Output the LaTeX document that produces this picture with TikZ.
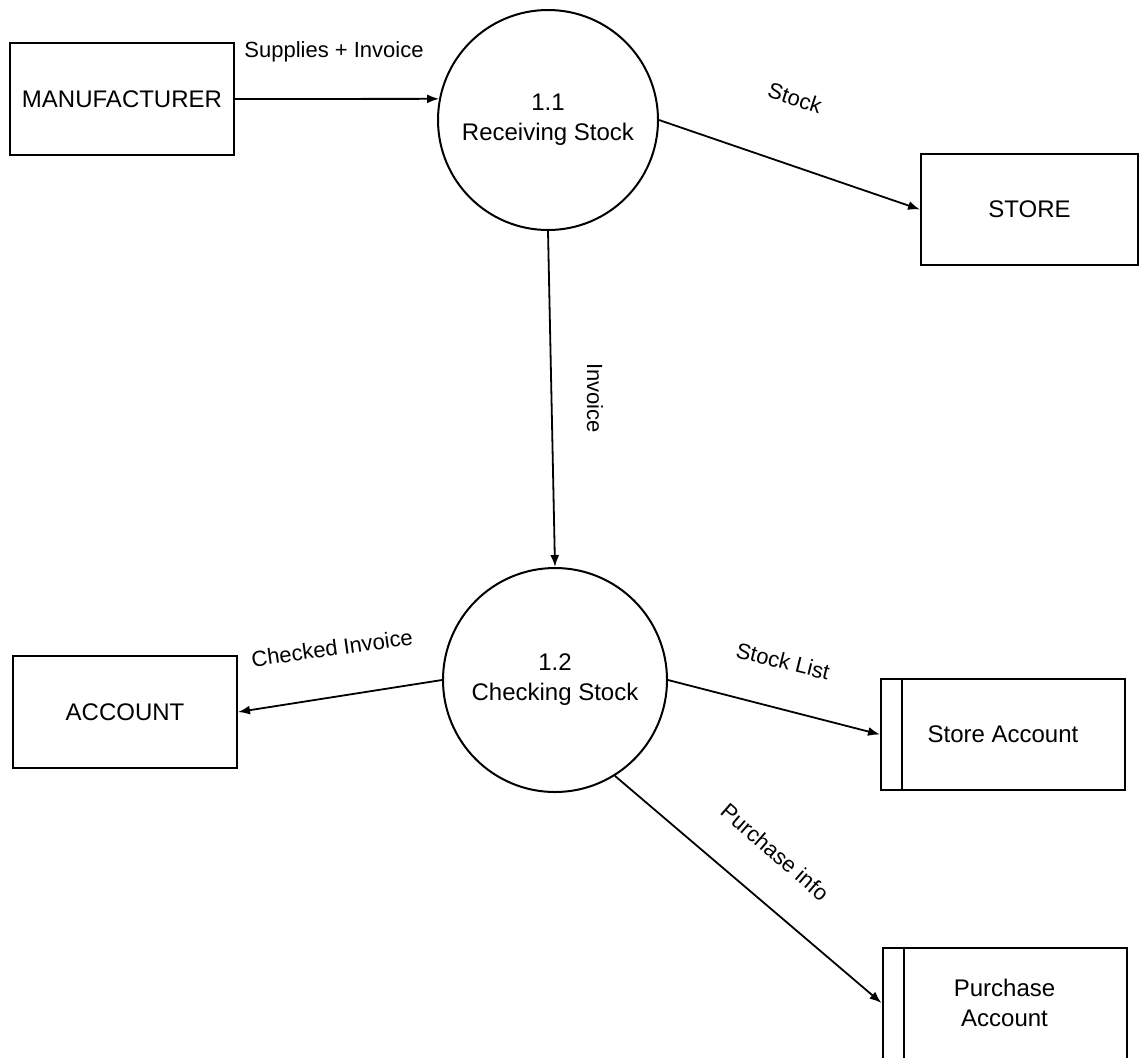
\documentclass[tikz,border=0pt]{standalone}
\usepackage{fontspec}
\setmainfont{Liberation Sans}
\usetikzlibrary{arrows.meta,shapes}
\tikzstyle{entity}=[draw,line width=1pt,rectangle,minimum width=112pt,minimum height=56pt,inner sep=0pt,font=\fontsize{12}{15}\selectfont]
\tikzstyle{store box}=[entity,minimum width=108.5pt,minimum height=55.5pt]
\tikzstyle{data store}=[entity,minimum width=122pt,minimum height=55.5pt,align=center]
\tikzstyle{process}=[draw,line width=1pt,circle,minimum size=110pt,inner sep=0pt,align=center,font=\fontsize{12}{15}\selectfont]
\tikzstyle{flow}=[draw,line width=0.9pt,-{Latex[length=6pt,width=4.5pt]}]
\tikzstyle{flow label}=[font=\fontsize{11}{13}\selectfont,inner sep=0pt]

\begin{document}
\begin{tikzpicture}[x=0.5pt,y=-0.5pt]
    \clip (0,0) rectangle (1140,1057);
    % External entities
    \foreach \pos/\name/\txt in {{(122,99)/manu/MANUFACTURER},{(125,712)/acc/ACCOUNT}}
        \node[entity] (\name) at \pos {\txt};
    \node[store box] (store) at (1029.5,209.5) {STORE};

    % Processes
    \node[process] (rs) at (548,120) {1.1\\Receiving Stock};
    \node[process,minimum size=112pt] (cs) at (555,680) {1.2\\Checking Stock};

    % Data stores with the side bar
    \foreach \pos/\name/\txt in {{(1003,734.5)/sa/Store Account},{(1004.5,1003)/pa/Purchase\\Account}}
    {
        \node[data store] (\name) at \pos {\txt};
        \draw[line width=1pt] ([xshift=11pt]\name.north west) -- ([xshift=11pt]\name.south west);
    }

    % Data flows
    \foreach \source/\dest in {manu.east/rs.169, rs.east/store.west, rs.south/cs.north, cs.west/acc.east, cs.east/sa.west, cs.-58/pa.west}
        \path[flow] (\source) -- (\dest);

    % Flow labels
    \node[flow label] (supl) at (334,52) {Supplies + Invoice};
    \node[flow label,rotate=-18] (stockl) at (795,98) {Stock};
    \node[flow label,rotate=-90] (invl) at (595,398) {Invoice};
    \node[flow label,rotate=8] (chkl) at (332,648) {Checked Invoice};
    \node[flow label,rotate=-14] (listl) at (783,661) {Stock List};
    \node[flow label,rotate=-41] (purl) at (775,852) {Purchase info};
\end{tikzpicture}
\end{document}
